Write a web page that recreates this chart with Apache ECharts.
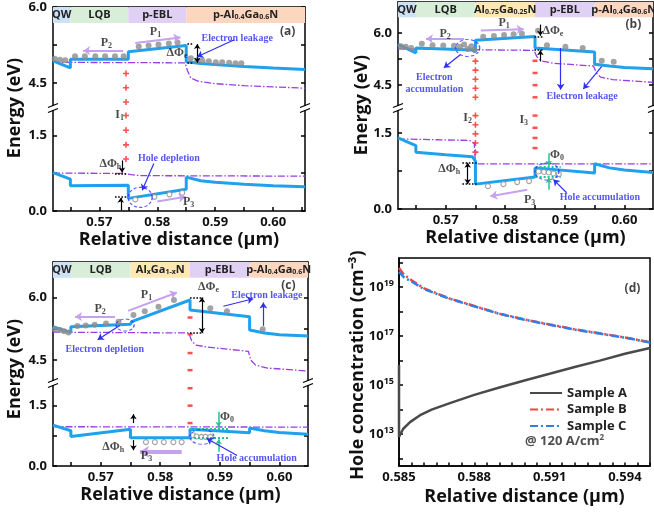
<!DOCTYPE html>
<html>
<head>
<meta charset="utf-8">
<script src="https://cdn.jsdelivr.net/npm/echarts@6/dist/echarts.min.js"></script>
<style>
html,body{margin:0;padding:0;background:#fff;}
#chart{width:654px;height:513px;}
</style>
</head>
<body>
<div id="chart"></div>
<script>
// ---------- data ----------
// panel (a)
var aRegions = [['QW',0.562,0.565],['LQB',0.565,0.575],['p-EBL',0.575,0.585],['p-Al{s|0.4}Ga{s|0.6}N',0.585,0.6055]];
var aCB = [[0.562,4.94],[0.565,4.80],[0.565,4.97],[0.575,4.97],[0.575,5.12],[0.585,5.24],[0.585,4.92],[0.5875,4.885],[0.59,4.865],[0.595,4.83],[0.6,4.80],[0.6055,4.77]];
var aEfUp = [[0.562,4.91],[0.5848,4.90],[0.5852,4.75],[0.5858,4.60],[0.587,4.54],[0.59,4.49],[0.595,4.45],[0.6055,4.40]];
var aVB = [[0.562,0.76],[0.565,0.63],[0.565,0.50],[0.575,0.51],[0.575,0.25],[0.585,0.43],[0.585,0.67],[0.5875,0.60],[0.59,0.57],[0.595,0.53],[0.6,0.50],[0.6055,0.48]];
var aEfLow = [[0.562,0.75],[0.574,0.745],[0.5755,0.72],[0.577,0.70],[0.6055,0.69]];
var aElec = [[0.5623,4.98],[0.5632,4.96],[0.5641,4.95],[0.5658,5.03],[0.5675,5.03],[0.5693,5.03],[0.571,5.03],[0.5727,5.03],[0.5742,5.03],
  [0.5768,5.22],[0.5785,5.24],[0.5802,5.26],[0.582,5.28],[0.5835,5.30],
  [0.5858,4.99],[0.5869,4.95],[0.5878,4.94],[0.5889,4.93],[0.5901,4.91],[0.5912,4.91],[0.5924,4.90],[0.5935,4.89],[0.5945,4.89]];
var aHole = [[0.5762,0.23],[0.5795,0.28],[0.5821,0.33],[0.5843,0.36]];
var aPlusUp = [[0.5746,4.69],[0.5746,4.41],[0.5746,4.13]];
var aPlusLow = [[0.5746,1.89],[0.5746,1.60],[0.5746,1.31],[0.5746,1.03]];

// panel (b)
var bRegions = [['QW',0.562,0.565],['LQB',0.565,0.575],['Al{s|0.75}Ga{s|0.25}N',0.575,0.585],['p-EBL',0.585,0.595],['p-Al{s|0.4}Ga{s|0.6}N',0.595,0.6048]];
var bCB = [[0.562,5.67],[0.565,5.43],[0.565,5.57],[0.5745,5.51],[0.575,5.45],[0.575,5.79],[0.585,5.90],[0.585,5.57],[0.595,5.45],[0.595,5.10],[0.5975,5.05],[0.6,5.01],[0.6048,4.97]];
var bEfUp = [[0.562,5.54],[0.5848,5.50],[0.5853,5.32],[0.586,5.20],[0.588,5.13],[0.5948,5.05],[0.5953,4.85],[0.596,4.73],[0.598,4.66],[0.6048,4.58]];
var bVB = [[0.562,1.40],[0.565,1.25],[0.565,1.12],[0.57,1.07],[0.5745,1.03],[0.575,0.94],[0.575,0.49],[0.585,0.63],[0.585,0.81],[0.595,0.71],[0.595,0.89],[0.5975,0.81],[0.6,0.77],[0.6048,0.72]];
var bEfLow = [[0.562,1.38],[0.574,1.35],[0.5748,1.30],[0.575,0.89],[0.6048,0.89]];
var bElec = [[0.5625,5.62],[0.5633,5.60],[0.5642,5.57],[0.566,5.69],[0.5678,5.65],[0.5696,5.64],[0.5714,5.63],[0.5724,5.60],[0.5731,5.67],[0.5737,5.54],[0.5743,5.62],[0.5748,5.52],
  [0.5763,5.89],[0.5781,5.91],[0.5798,5.94],[0.5814,5.96],[0.5828,5.98],[0.5855,6.06],
  [0.587,5.65],[0.5901,5.60],[0.593,5.57],[0.5962,5.20],[0.5982,5.17]];
var bHole = [[0.5771,0.45],[0.5797,0.49],[0.582,0.53],[0.584,0.55],[0.5856,0.74],[0.5865,0.73],[0.5873,0.72],[0.5881,0.70],[0.589,0.69]];
var bPlusUp = [[0.575,5.19],[0.575,4.93],[0.575,4.67],[0.575,4.41],[0.575,4.15]];
var bPlusLow = [[0.575,1.84],[0.575,1.66],[0.575,1.48],[0.575,1.30],[0.575,1.12]];
var bDashUp = [[0.585,5.2],[0.585,4.85],[0.585,4.5],[0.585,4.15]];
var bDashLow = [[0.585,1.84],[0.585,1.60],[0.585,1.40],[0.585,1.20]];

// panel (c)
var cRegions = [['QW',0.562,0.565],['LQB',0.565,0.575],['Al{s|x}Ga{s|1-x}N',0.575,0.585],['p-EBL',0.585,0.595],['p-Al{s|0.4}Ga{s|0.6}N',0.595,0.6048]];
var cCB = [[0.562,5.30],[0.565,5.16],[0.565,5.30],[0.575,5.36],[0.5752,5.42],[0.585,5.94],[0.585,5.70],[0.595,5.54],[0.595,5.22],[0.5975,5.15],[0.6,5.11],[0.6048,5.08]];
var cEfUp = [[0.562,5.17],[0.5848,5.15],[0.5853,4.95],[0.586,4.86],[0.588,4.81],[0.5948,4.71],[0.5952,4.50],[0.596,4.38],[0.598,4.31],[0.6048,4.24]];
var cVB = [[0.562,1.01],[0.565,0.87],[0.565,0.73],[0.575,0.91],[0.575,0.70],[0.585,0.70],[0.585,0.91],[0.595,0.82],[0.595,0.94],[0.5975,0.87],[0.6,0.83],[0.6048,0.785]];
var cEfLow = [[0.562,0.97],[0.6048,0.96]];
var cElec = [[0.5623,5.24],[0.5632,5.22],[0.5639,5.19],[0.5646,5.16],[0.5661,5.32],[0.5675,5.33],[0.569,5.35],[0.5709,5.38],[0.573,5.42],
  [0.5755,5.58],[0.5774,5.67],[0.5797,5.78],[0.5823,5.94],[0.5884,5.74],[0.5912,5.67],[0.5972,5.24]];
var cHole = [[0.5776,0.59],[0.5791,0.59],[0.5806,0.59],[0.5822,0.59],[0.5836,0.59],[0.5855,0.76],[0.5861,0.73],[0.5869,0.72],[0.5876,0.72],[0.5884,0.72]];
var cDashUp = [[0.585,5.52],[0.585,5.12],[0.585,4.67],[0.585,4.26]];
var cDashLow = [[0.585,1.92],[0.585,1.49],[0.585,1.06]];

// panel (d) hole concentration (cm^-3)
var dX = [0.585,0.5852,0.5855,0.586,0.587,0.588,0.589,0.590,0.591,0.592,0.593,0.594,0.595];
var sampleB = [6.0e19,3.2e19,1.9e19,8.9e18,3.5e18,1.7e18,8.3e17,4.8e17,3.0e17,1.9e17,1.3e17,8.9e16,5.6e16];
var sampleC = [4.2e19,2.5e19,1.7e19,8.3e18,3.4e18,1.65e18,8.1e17,4.7e17,2.9e17,1.85e17,1.27e17,8.7e16,5.5e16];
var sampleA = [[0.585,6.6e15],[0.585,7.6e12],[0.58517,1.66e13],[0.58544,3.1e13],[0.58584,5.9e13],[0.5863,1.0e14],[0.587,1.8e14],[0.588,4.0e14],
  [0.589,8.0e14],[0.59,1.55e15],[0.591,2.9e15],[0.592,5.5e15],[0.593,1.0e16],[0.594,1.9e16],[0.595,3.3e16]];
var dLabelVals = [1e13,1e15,1e17,1e19];
var dTickVals = [1e12,1e13,1e14,1e15,1e16,1e17,1e18,1e19,1e20];

var xLabelVals = [0.57,0.58,0.59,0.60];
var xTickVals = [0.565,0.57,0.575,0.58,0.585,0.59,0.595,0.60,0.605];

// ---------- styles ----------
var SANS = 'Open Sans';
var SERIF = 'Liberation Serif';
var C_LINE = '#1fa1ee';
var C_FERMI = '#9a3de6';
var C_DOT = '#8c8c8c';
var C_RED = '#ff2424';
var C_NOTE = '#2a2af0';
var AX = {color:'#000', width:1.5};
var tickFont = {fontFamily:SANS, fontWeight:'bold', fontSize:13, color:'#111'};
var titleFont = {fontFamily:SANS, fontWeight:'bold', fontSize:18, color:'#111'};
var FONTS = {
  p:{fontFamily:SERIF, fontWeight:'bold', fontSize:12, color:'#1a1a1a'},
  n:{fontFamily:SERIF, fontWeight:'bold', fontSize:10, color:C_NOTE, lineHeight:12},
  t:{fontFamily:SANS, fontWeight:'bold', fontSize:12, color:'#111'}
};
var ARROWS = {
  P:{color:'#c6a2ee', width:2, head:true, size:7},
  P3:{color:'#c6a2ee', width:4, head:true, size:9},
  B:{color:'#3030f0', width:1.2, head:true, size:6},
  K:{color:'#000', width:1.2, head:true, size:5},
  K2:{color:'#000', width:1.2, head:true, both:true, size:5},
  Kd:{color:'#000', width:1.6, type:'dotted'},
  G:{color:'#1fc58a', width:1.5, head:true, size:5},
  Gd:{color:'#1fc58a', width:2, type:'dotted'}
};
function regionColor(n){
  if (n === 'QW') return '#cde2f5';
  if (n === 'LQB') return '#d8eed9';
  if (n === 'p-EBL') return '#e0d0f4';
  if (n.indexOf('p-Al') === 0) return '#fdd6bf';
  return '#fde8b4';
}
function subRich(f){
  var fs = Math.round(f.fontSize * 0.7);
  return {
    s: {fontFamily:f.fontFamily, fontWeight:f.fontWeight, color:f.color, fontSize:fs, padding:[Math.round(f.fontSize*0.5),0,0,0]},
    u: {fontFamily:f.fontFamily, fontWeight:f.fontWeight, color:f.color, fontSize:fs, padding:[0,0,Math.round(f.fontSize*0.5),0]}
  };
}

// ---------- panel layout + annotations ----------
var panels = [
  {left:53, width:252, upTop:7, upH:99, lowTop:110, lowH:101, xr:[0.562,0.6055], yUp:[4.05,6.0], yLow:[0,2.0], bandBottom:5.685,
   upTicks:[4.5,5.25,6.0], upLabels:[4.5,6.0], title:[15,108],
   regions:aRegions, cb:aCB, efUp:aEfUp, vb:aVB, efLow:aEfLow, elec:aElec, hole:aHole, plusUp:aPlusUp, plusLow:aPlusLow, dashUp:[], dashLow:[],
   notesUp:[['P{s|2}',0.5712,5.30,'p'],['P{s|1}',0.5797,5.51,'p'],['ΔΦ{s|e}',0.5834,5.09,'p'],['Electron leakage',0.5938,5.38,'n'],['(a)',0.6025,5.51,'t']],
   notesLow:[['I{s|1}',0.5735,1.90,'p'],['ΔΦ{s|h}',0.5719,0.94,'p'],['Hole depletion',0.5820,1.04,'n'],['P{s|3}',0.5854,0.18,'p']],
   arrowsUp:[[0.5741,5.14,0.5672,5.14,'P'],[0.5762,5.29,0.5840,5.40,'P'],[0.5852,5.27,0.5862,5.27,'Kd'],[0.5852,4.90,0.5862,4.90,'Kd'],
     [0.5869,5.27,0.5869,4.90,'K2'],[0.5932,5.35,0.5869,5.02,'B']],
   arrowsLow:[[0.5727,0.744,0.5748,0.744,'Kd'],[0.5739,1.0,0.5739,0.76,'K'],[0.5727,0.28,0.5748,0.28,'Kd'],[0.5737,0.01,0.5737,0.26,'K'],
     [0.5794,0.94,0.5774,0.41,'B'],[0.5800,0.19,0.5849,0.28,'P']],
   ellUp:[], ellLow:[[0.57705,0.27,24,20]]},
  {left:398, width:255, upTop:2, upH:104, lowTop:110, lowH:99, xr:[0.562,0.6048], yUp:[3.9,6.89], yLow:[0,1.95], bandBottom:6.45,
   upTicks:[4.5,5.25,6.0,6.75], upLabels:[4.5,6.0], title:[362,105],
   regions:bRegions, cb:bCB, efUp:bEfUp, vb:bVB, efLow:bEfLow, elec:bElec, hole:bHole, plusUp:bPlusUp, plusLow:bPlusLow, dashUp:bDashUp, dashLow:bDashLow,
   notesUp:[['P{s|2}',0.5699,5.98,'p'],['P{s|1}',0.5798,6.29,'p'],['ΔΦ{s|e}',0.5880,6.05,'p'],['(b)',0.6015,6.24,'t'],
     ['Electron\naccumulation',0.5681,4.54,'n'],['Electron leakage',0.5929,4.18,'n']],
   notesLow:[['I{s|2}',0.5737,1.79,'p'],['I{s|3}',0.5831,1.76,'p'],['ΔΦ{s|h}',0.5706,0.78,'p'],['Φ{s|0}',0.5887,1.07,'p'],
     ['Hole accumulation',0.5959,0.22,'n'],['P{s|3}',0.5841,0.18,'p']],
   arrowsUp:[[0.5731,5.83,0.5667,5.83,'P'],[0.5759,6.07,0.5831,6.11,'P'],[0.5849,5.90,0.5864,5.90,'Kd'],[0.5849,5.52,0.5864,5.52,'Kd'],
     [0.5859,6.24,0.5859,5.92,'K'],[0.5859,5.18,0.5859,5.50,'K'],[0.5725,5.38,0.5697,5.0,'B'],[0.5893,5.57,0.5893,4.37,'B'],[0.5962,5.04,0.5931,4.39,'B']],
   arrowsLow:[[0.5728,0.91,0.5752,0.91,'Kd'],[0.5728,0.49,0.5752,0.49,'Kd'],[0.5737,0.91,0.5737,0.49,'K2'],
     [0.5851,0.84,0.5893,0.84,'Gd'],[0.5851,0.63,0.5893,0.63,'Gd'],[0.5873,1.10,0.5873,0.85,'G'],[0.5873,0.38,0.5873,0.61,'G'],
     [0.5903,0.32,0.5881,0.58,'B'],[0.5837,0.38,0.5775,0.25,'P']],
   ellUp:[[0.5737,5.57,24,17]], ellLow:[[0.5870,0.74,24,17]]},
  {left:53, width:255, upTop:262, upH:119, lowTop:385, lowH:81, xr:[0.562,0.6048], yUp:[4.0,6.85], yLow:[0,2.0], bandBottom:6.47,
   upTicks:[4.5,5.25,6.0,6.75], upLabels:[4.5,6.0], title:[15,369],
   regions:cRegions, cb:cCB, efUp:cEfUp, vb:cVB, efLow:cEfLow, elec:cElec, hole:cHole, plusUp:[], plusLow:[], dashUp:cDashUp, dashLow:cDashLow,
   notesUp:[['P{s|2}',0.5699,5.72,'p'],['P{s|1}',0.5777,6.06,'p'],['ΔΦ{s|e}',0.5881,6.26,'p'],['(c)',0.6015,6.28,'t'],
     ['Electron leakage',0.5979,6.04,'n'],['Electron depletion',0.5707,4.76,'n']],
   notesLow:[['ΔΦ{s|h}',0.5721,0.47,'p'],['Φ{s|0}',0.5912,1.20,'p'],['Hole accumulation',0.5962,0.18,'n'],['P{s|3}',0.5777,0.26,'p']],
   arrowsUp:[[0.5724,5.54,0.5657,5.54,'P'],[0.5746,5.68,0.5828,6.12,'P'],[0.585,6.0,0.5872,6.0,'Kd'],[0.585,5.15,0.5872,5.15,'Kd'],
     [0.5870,6.0,0.5870,5.15,'K2'],[0.5906,5.79,0.5956,5.97,'B'],[0.5973,5.32,0.5973,5.88,'B'],[0.5732,5.33,0.5695,4.99,'B']],
   arrowsLow:[[0.5755,1.06,0.5755,1.28,'K'],[0.5755,0.64,0.5755,0.39,'K'],
     [0.585,0.93,0.5917,0.93,'Gd'],[0.585,0.69,0.5917,0.69,'Gd'],[0.5898,1.34,0.5898,0.97,'G'],[0.5898,0.35,0.5898,0.66,'G'],
     [0.5929,0.26,0.5878,0.68,'B'],[0.5836,0.35,0.5766,0.35,'P3']],
   ellUp:[[0.5741,5.34,18,12]], ellLow:[[0.5870,0.72,24,15]]}
];

// ---------- builders ----------
var grid = [], xAxis = [], yAxis = [], series = [], graphic = [];
var PLUS = 'path://M0 2.2H6V3.8H0ZM2.2 0H3.8V6H2.2Z';

function yLeft(g, r, ticks, labels){
  return {gridIndex:g, type:'value', min:r[0], max:r[1], position:'left',
    axisLine:{show:true, onZero:false, lineStyle:AX},
    axisTick:{show:true, inside:true, length:4, customValues:ticks, lineStyle:AX},
    axisLabel:{show:labels.length > 0, customValues:labels, margin:6, formatter:function(v){return v.toFixed(1);},
      fontFamily:tickFont.fontFamily, fontWeight:tickFont.fontWeight, fontSize:tickFont.fontSize, color:tickFont.color},
    splitLine:{show:false}};
}
function yRight(g, r, ticks){
  return {gridIndex:g, type:'value', min:r[0], max:r[1], position:'right',
    axisLine:{show:true, onZero:false, lineStyle:AX},
    axisTick:{show:true, inside:true, length:4, customValues:ticks, lineStyle:AX},
    axisLabel:{show:false}, splitLine:{show:false}};
}
function lineSeries(data, xi, yi, style, extra){
  var s = {type:'line', data:data, xAxisIndex:xi, yAxisIndex:yi, symbol:'none', lineStyle:style, silent:true, z:3};
  if (extra) for (var k in extra) s[k] = extra[k];
  return s;
}
function scatterSeries(data, xi, yi, symbol, size, itemStyle){
  return {type:'scatter', data:data, xAxisIndex:xi, yAxisIndex:yi, symbol:symbol, symbolSize:size, itemStyle:itemStyle, silent:true, z:4};
}
function arrowData(list){
  return list.map(function(a){
    var st = ARROWS[a[4]];
    var ls = {color:st.color, width:st.width, type:st.type || 'solid'};
    return [
      {coord:[a[0],a[1]], symbol:st.both ? 'arrow' : 'none', symbolSize:st.size || 1, lineStyle:ls},
      {coord:[a[2],a[3]], symbol:st.head ? 'arrow' : 'none', symbolSize:st.size || 1, lineStyle:ls}
    ];
  });
}
function noteSeries(notes, arrows, ells, xi, yi){
  var out = [];
  out.push({type:'scatter', xAxisIndex:xi, yAxisIndex:yi, silent:true, z:6, symbolSize:1,
    itemStyle:{color:'rgba(0,0,0,0)'},
    data:notes.map(function(n){
      var f = FONTS[n[3]];
      var lab = {show:true, position:'inside', formatter:(function(t){return function(){return t;};})(n[0]), rich:subRich(f)};
      for (var k in f) lab[k] = f[k];
      return {value:[n[1], n[2]], label:lab};
    }),
    markLine:{silent:true, animation:false, label:{show:false}, emphasis:{disabled:true}, symbol:['none','arrow'], data:arrowData(arrows)}
  });
  if (ells.length) {
    out.push({type:'scatter', xAxisIndex:xi, yAxisIndex:yi, silent:true, z:5, symbol:'circle',
      itemStyle:{color:'rgba(0,0,0,0)', borderColor:'#3535ff', borderWidth:1.2, borderType:[3,2]},
      data:ells.map(function(e){ return {value:[e[0],e[1]], symbolSize:[e[2],e[3]]}; })});
  }
  return out;
}

panels.forEach(function(p){
  var gu = grid.length, gl = gu + 1;
  grid.push({left:p.left, top:p.upTop, width:p.width, height:p.upH, outerBoundsMode:'none'});
  grid.push({left:p.left, top:p.lowTop, width:p.width, height:p.lowH, outerBoundsMode:'none'});
  xAxis.push({gridIndex:gu, type:'value', min:p.xr[0], max:p.xr[1], position:'top',
    axisLine:{show:true, onZero:false, lineStyle:AX}, axisTick:{show:false}, axisLabel:{show:false}, splitLine:{show:false}});
  xAxis.push({gridIndex:gl, type:'value', min:p.xr[0], max:p.xr[1], position:'bottom',
    axisLine:{show:true, onZero:false, lineStyle:AX},
    axisTick:{show:true, inside:true, length:4, customValues:xTickVals, lineStyle:AX},
    axisLabel:{customValues:xLabelVals, margin:5, formatter:function(v){return v.toFixed(2);},
      fontFamily:tickFont.fontFamily, fontWeight:tickFont.fontWeight, fontSize:tickFont.fontSize, color:tickFont.color},
    splitLine:{show:false},
    name:'Relative distance (μm)', nameLocation:'middle', nameGap:20, nameTextStyle:titleFont});
  var yu = yAxis.length, yl = yu + 2;
  yAxis.push(yLeft(gu, p.yUp, p.upTicks, p.upLabels));
  yAxis.push(yRight(gu, p.yUp, p.upTicks));
  yAxis.push(yLeft(gl, p.yLow, [0,0.75,1.5], [0,1.5]));
  yAxis.push(yRight(gl, p.yLow, [0,0.75,1.5]));

  var bandLabel = {show:true, position:'inside', fontFamily:SANS, fontWeight:'bold', fontSize:11, color:'#222',
    rich:{s:{fontFamily:SANS, fontWeight:'bold', fontSize:7, color:'#222', padding:[5,0,0,0]}}};
  // upper (conduction band) part
  series.push(lineSeries(p.efUp, gu, yu, {color:C_FERMI, width:1.3, type:[7,2,1.5,2]}));
  series.push(lineSeries(p.cb, gu, yu, {color:C_LINE, width:3}, {
    markArea:{silent:true, data:p.regions.map(function(r){
      var lab = {}; for (var k in bandLabel) lab[k] = bandLabel[k];
      lab.formatter = (function(t){return function(){return t;};})(r[0]);
      return [{xAxis:r[1], yAxis:p.bandBottom, itemStyle:{color:regionColor(r[0])}, label:lab}, {xAxis:r[2], yAxis:p.yUp[1]}];
    })}
  }));
  series.push(scatterSeries(p.elec, gu, yu, 'circle', 6, {color:C_DOT}));
  if (p.plusUp.length) series.push(scatterSeries(p.plusUp, gu, yu, PLUS, 6, {color:C_RED}));
  if (p.dashUp.length) series.push(scatterSeries(p.dashUp, gu, yu, 'rect', [5,2.5], {color:C_RED}));
  noteSeries(p.notesUp, p.arrowsUp, p.ellUp, gu, yu).forEach(function(s){series.push(s);});
  // lower (valence band) part
  series.push(lineSeries(p.efLow, gl, yl, {color:C_FERMI, width:1.3, type:[7,2,1.5,2]}));
  series.push(lineSeries(p.vb, gl, yl, {color:C_LINE, width:3}));
  series.push(scatterSeries(p.hole, gl, yl, 'circle', 5, {color:'#fff', borderColor:C_DOT, borderWidth:1.1}));
  if (p.plusLow.length) series.push(scatterSeries(p.plusLow, gl, yl, PLUS, 6, {color:C_RED}));
  if (p.dashLow.length) series.push(scatterSeries(p.dashLow, gl, yl, 'rect', [5,2.5], {color:C_RED}));
  noteSeries(p.notesLow, p.arrowsLow, p.ellLow, gl, yl).forEach(function(s){series.push(s);});

  // y title + axis-break marks
  graphic.push({type:'text', x:p.title[0], y:p.title[1], rotation:Math.PI/2,
    style:{text:'Energy (eV)', font:'bold 18px "Open Sans"', fill:'#111', align:'center', verticalAlign:'middle'}});
  var yb = (p.upTop + p.upH + p.lowTop) / 2;
  [p.left, p.left + p.width].forEach(function(x){
    graphic.push({type:'rect', shape:{x:x-3, y:yb-2, width:6, height:4}, style:{fill:'#fff'}, z:100});
    graphic.push({type:'line', shape:{x1:x-5, y1:yb-0.5, x2:x+5, y2:yb-4.5}, style:{stroke:'#000', lineWidth:1.2}, z:101});
    graphic.push({type:'line', shape:{x1:x-5, y1:yb+4.5, x2:x+5, y2:yb+0.5}, style:{stroke:'#000', lineWidth:1.2}, z:101});
  });
});

// ---------- panel (d) ----------
var gd = grid.length;
var dTicksX = [];
for (var k = 0; k <= 20; k++) dTicksX.push(+(0.585 + k * 0.0005).toFixed(4));
grid.push({left:399, top:258, width:251, height:208, show:true, borderColor:'#000', borderWidth:1.5, outerBoundsMode:'none'});
xAxis.push({gridIndex:gd, type:'value', min:0.585, max:0.595,
  axisLine:{show:true, onZero:false, lineStyle:AX},
  axisTick:{show:true, inside:true, length:3.5, customValues:dTicksX, lineStyle:AX},
  axisLabel:{customValues:[0.585,0.588,0.591,0.594], margin:5, formatter:function(v){return v.toFixed(3);},
    fontFamily:tickFont.fontFamily, fontWeight:tickFont.fontWeight, fontSize:tickFont.fontSize, color:tickFont.color},
  splitLine:{show:false},
  name:'Relative distance (μm)', nameLocation:'middle', nameGap:22, nameTextStyle:titleFont});
var ydi = yAxis.length;
yAxis.push({gridIndex:gd, type:'log', logBase:10, min:5e11, max:1.55e20,
  axisLine:{show:true, onZero:false, lineStyle:AX},
  axisTick:{show:true, inside:true, length:4, customValues:dTickVals, lineStyle:AX},
  axisLabel:{customValues:dLabelVals, margin:5, hideOverlap:false,
    formatter:function(v){return '{b|10}{u|' + Math.round(Math.log(v) / Math.LN10) + '}';},
    rich:{b:{fontFamily:SANS, fontWeight:'bold', fontSize:13, color:'#111'},
          u:{fontFamily:SANS, fontWeight:'bold', fontSize:9, color:'#111', padding:[0,0,8,0]}}},
  splitLine:{show:false}});
series.push({type:'line', name:'Sample A', data:sampleA, xAxisIndex:gd, yAxisIndex:ydi, symbol:'none', lineStyle:{color:'#4a4a4a', width:2.5}, itemStyle:{color:'#4a4a4a'}, z:3});
series.push({type:'line', name:'Sample B', data:dX.map(function(x,i){return [x, sampleB[i]];}), xAxisIndex:gd, yAxisIndex:ydi, symbol:'none',
  lineStyle:{color:'#f0463c', width:2.5, type:[8,3,2,3]}, itemStyle:{color:'#f0463c'}, z:3});
series.push({type:'line', name:'Sample C', data:dX.map(function(x,i){return [x, sampleC[i]];}), xAxisIndex:gd, yAxisIndex:ydi, symbol:'none',
  lineStyle:{color:'#2f7fe6', width:2.5, type:[8,3,2,3]}, itemStyle:{color:'#2f7fe6'}, z:3});
series.push({type:'scatter', xAxisIndex:gd, yAxisIndex:ydi, silent:true, symbolSize:1, itemStyle:{color:'rgba(0,0,0,0)'}, z:6,
  data:[
    {value:[0.5943,9.1e18], label:{show:true, position:'inside', formatter:'(d)', fontFamily:SANS, fontWeight:'bold', fontSize:12, color:'#111'}},
    {value:[0.5900,5.0e12], label:{show:true, position:'right', distance:0, formatter:function(){return '@ 120 A/cm{u|2}';},
      fontFamily:SANS, fontWeight:'bold', fontSize:13, color:'#222',
      rich:{u:{fontFamily:SANS, fontWeight:'bold', fontSize:8, color:'#222', padding:[0,0,7,0]}}}}
  ]});
graphic.push({type:'text', x:358, y:365, rotation:Math.PI/2,
  style:{text:'Hole concentration (cm⁻³)', font:'bold 18px "Open Sans"', fill:'#111', align:'center', verticalAlign:'middle'}});

var chart = echarts.init(document.getElementById('chart'), null, {renderer:'canvas'});
chart.setOption({
  animation:false,
  backgroundColor:'#fff',
  grid:grid, xAxis:xAxis, yAxis:yAxis, series:series, graphic:graphic,
  legend:{show:true, data:['Sample A','Sample B','Sample C'], orient:'vertical', left:524, top:381,
    itemWidth:32, itemHeight:12, itemGap:2.5, selectedMode:false, itemStyle:{opacity:0},
    textStyle:{fontFamily:SANS, fontWeight:'bold', fontSize:13, lineHeight:14, color:'#222'}}
});
</script>
</body>
</html>
